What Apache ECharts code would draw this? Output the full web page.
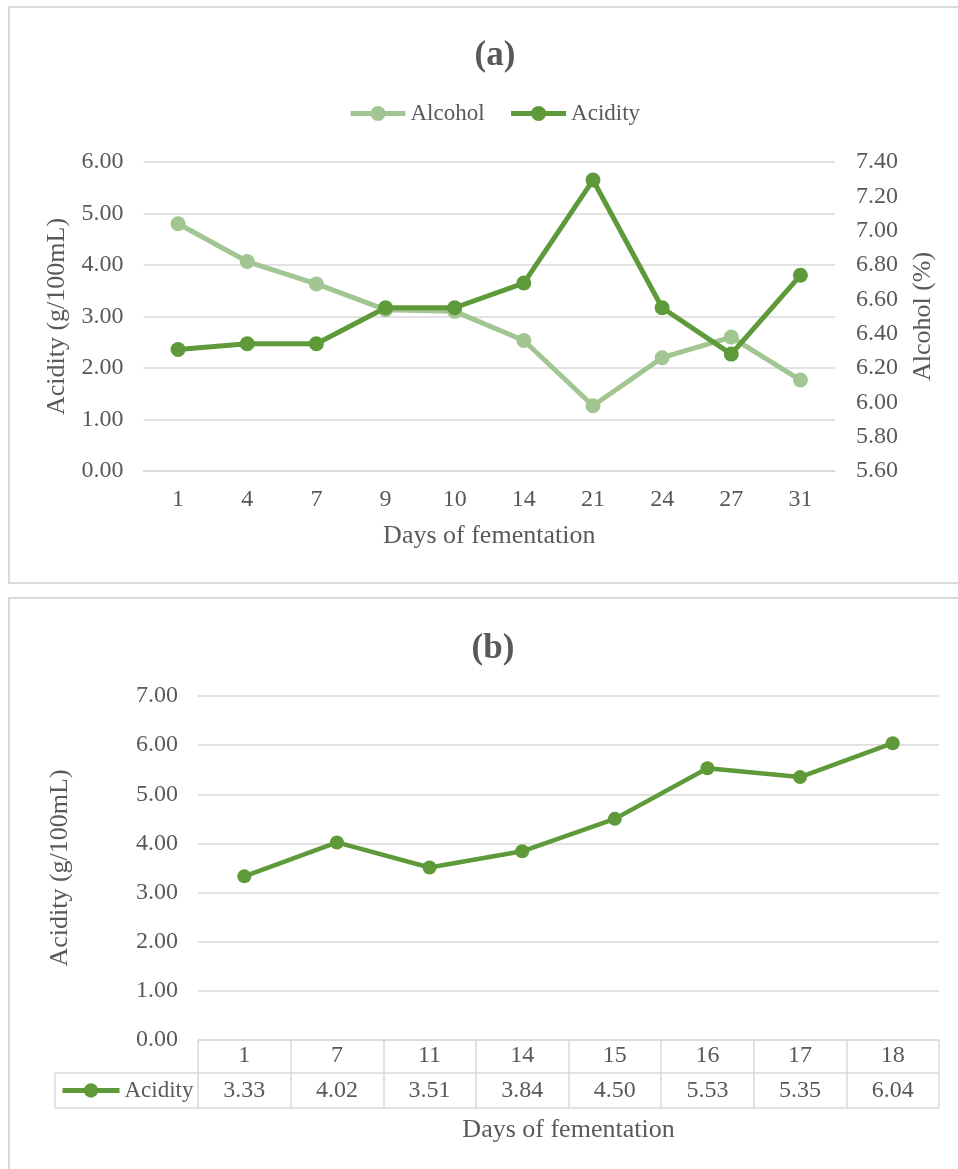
<!DOCTYPE html>
<html>
<head>
<meta charset="utf-8">
<script src="https://cdn.jsdelivr.net/npm/echarts@6/dist/echarts.min.js"></script>
<style>
  html, body { margin: 0; padding: 0; background: #ffffff; }
  #chart { width: 958px; height: 1169px; }
</style>
</head>
<body>
<div id="chart"></div>
<script>
// Panel (a): alcohol and acidity over the fermentation days
const daysA = ['1', '4', '7', '9', '10', '14', '21', '24', '27', '31'];
const alcoholA = [7.04, 6.82, 6.69, 6.54, 6.53, 6.36, 5.98, 6.26, 6.38, 6.13];
const acidityA = [2.36, 2.47, 2.47, 3.17, 3.17, 3.65, 5.65, 3.17, 2.27, 3.80];

// Panel (b): acidity only, with a data table under the axis
const daysB = ['1', '7', '11', '14', '15', '16', '17', '18'];
const acidityB = [3.33, 4.02, 3.51, 3.84, 4.50, 5.53, 5.35, 6.04];

const FONT = 'Liberation Serif';
const TEXT = '#595959';
const GRIDLINE = '#D9D9D9';
const DARK = '#5E9A3A';
const LIGHT = '#A2C692';
const TICK_SIZE = 24;

const fmt2 = v => Number(v).toFixed(2);

const chart = echarts.init(document.getElementById('chart'), null, { renderer: 'canvas' });

const baseText = { fontFamily: FONT, color: TEXT };

// layout of the two plot areas
const gridA = { left: 143.5, top: 162, width: 691.5, height: 309 };
const gridB = { left: 198, top: 696, width: 741, height: 344 };
const tableRow1 = 33;   // header row height (day numbers)
const tableRow2 = 35;   // value row height
const legendCellLeft = 55;

const option = {
  backgroundColor: '#ffffff',
  animation: false,
  textStyle: { fontFamily: FONT },
  title: [
    { text: '(a)', left: 490, top: 33, textAlign: 'center',
      textStyle: { fontFamily: FONT, fontSize: 35, fontWeight: 'bold', color: TEXT } },
    { text: '(b)', left: 488, top: 626, textAlign: 'center',
      textStyle: { fontFamily: FONT, fontSize: 35, fontWeight: 'bold', color: TEXT } }
  ],
  legend: [
    { data: ['Alcohol', 'Acidity'], left: 343, top: 97, orient: 'horizontal',
      itemWidth: 55, itemHeight: 19, itemGap: 24,
      lineStyle: { width: 5 },
      textStyle: Object.assign({ fontSize: 23 }, baseText) },
    { data: ['Acidity'], left: 55, top: 1074, orient: 'horizontal',
      itemWidth: 57, itemHeight: 18,
      lineStyle: { width: 5 },
      textStyle: Object.assign({ fontSize: 23 }, baseText) }
  ],
  grid: [
    Object.assign({ containLabel: false, outerBoundsMode: 'none' }, gridA),
    Object.assign({ containLabel: false, outerBoundsMode: 'none' }, gridB)
  ],
  xAxis: [
    {
      type: 'category', gridIndex: 0, data: daysA, boundaryGap: true,
      name: 'Days of fementation', nameLocation: 'middle', nameGap: 52,
      nameTextStyle: Object.assign({ fontSize: 26 }, baseText),
      axisLine: { show: true, lineStyle: { color: GRIDLINE, width: 1.5 } },
      axisTick: { show: false },
      axisLabel: Object.assign({ fontSize: TICK_SIZE, margin: 17 }, baseText),
      splitLine: { show: false }
    },
    {
      type: 'category', gridIndex: 1, data: daysB, boundaryGap: true,
      name: 'Days of fementation', nameLocation: 'middle', nameGap: 77,
      nameTextStyle: Object.assign({ fontSize: 26 }, baseText),
      axisLine: { show: true, lineStyle: { color: GRIDLINE, width: 1.5 } },
      axisTick: { show: true, inside: false, alignWithLabel: false, interval: 0,
                  length: tableRow1 + tableRow2,
                  lineStyle: { color: GRIDLINE, width: 1.5 } },
      axisLabel: Object.assign({ fontSize: TICK_SIZE, margin: 4 }, baseText),
      splitLine: { show: false }
    }
  ],
  yAxis: [
    {
      type: 'value', gridIndex: 0, min: 0, max: 6, interval: 1,
      name: 'Acidity (g/100mL)', nameLocation: 'middle', nameGap: 70, nameRotate: 90,
      nameTextStyle: Object.assign({ fontSize: 26 }, baseText),
      axisLine: { show: false }, axisTick: { show: false },
      axisLabel: Object.assign({ fontSize: TICK_SIZE, margin: 20, formatter: fmt2 }, baseText),
      splitLine: { show: true, lineStyle: { color: GRIDLINE, width: 1.5 } }
    },
    {
      type: 'value', gridIndex: 0, position: 'right', min: 5.6, max: 7.4, interval: 0.2,
      name: 'Alcohol (%)', nameLocation: 'middle', nameGap: 75, nameRotate: 90,
      nameTextStyle: Object.assign({ fontSize: 26 }, baseText),
      axisLine: { show: false }, axisTick: { show: false },
      axisLabel: Object.assign({ fontSize: TICK_SIZE, margin: 21, formatter: fmt2 }, baseText),
      splitLine: { show: false }
    },
    {
      type: 'value', gridIndex: 1, min: 0, max: 7, interval: 1,
      name: 'Acidity (g/100mL)', nameLocation: 'middle', nameGap: 125, nameRotate: 90,
      nameTextStyle: Object.assign({ fontSize: 26 }, baseText),
      axisLine: { show: false }, axisTick: { show: false },
      axisLabel: Object.assign({ fontSize: TICK_SIZE, margin: 20, formatter: fmt2 }, baseText),
      splitLine: { show: true, lineStyle: { color: GRIDLINE, width: 1.5 } }
    }
  ],
  series: [
    {
      name: 'Alcohol', type: 'line', xAxisIndex: 0, yAxisIndex: 1, data: alcoholA,
      symbol: 'circle', symbolSize: 15,
      itemStyle: { color: LIGHT }, lineStyle: { color: LIGHT, width: 5 }, z: 2
    },
    {
      name: 'Acidity', type: 'line', xAxisIndex: 0, yAxisIndex: 0, data: acidityA,
      symbol: 'circle', symbolSize: 15,
      itemStyle: { color: DARK }, lineStyle: { color: DARK, width: 5 }, z: 3
    },
    {
      name: 'Acidity', type: 'line', xAxisIndex: 1, yAxisIndex: 2, data: acidityB,
      symbol: 'circle', symbolSize: 14,
      itemStyle: { color: DARK }, lineStyle: { color: DARK, width: 4.5 }, z: 3
    }
  ]
};

chart.setOption(option);

// Panel frames and the data table under panel (b), placed from the axis scale
const toX = d => {
  const p = chart.convertToPixel({ xAxisIndex: 1 }, d);
  return Array.isArray(p) ? p[0] : p;
};
const centers = daysB.map(toX);
const band = centers.length > 1 ? centers[1] - centers[0] : gridB.width;
const tableRight = centers[centers.length - 1] + band / 2;
const yTop = gridB.top + gridB.height;
const yMid = yTop + tableRow1;
const yBot = yMid + tableRow2;
const lineStyle = { stroke: GRIDLINE, lineWidth: 1.5 };

const graphics = [
  { type: 'rect', z: -10, shape: { x: 9, y: 7, width: 980, height: 576 },
    style: { fill: 'none', stroke: GRIDLINE, lineWidth: 2 }, silent: true },
  { type: 'rect', z: -10, shape: { x: 9, y: 598, width: 980, height: 600 },
    style: { fill: 'none', stroke: GRIDLINE, lineWidth: 2 }, silent: true },
  { type: 'line', shape: { x1: legendCellLeft, y1: yMid, x2: tableRight, y2: yMid }, style: lineStyle, silent: true },
  { type: 'line', shape: { x1: legendCellLeft, y1: yBot, x2: tableRight, y2: yBot }, style: lineStyle, silent: true },
  { type: 'line', shape: { x1: legendCellLeft, y1: yMid, x2: legendCellLeft, y2: yBot }, style: lineStyle, silent: true }
];
acidityB.forEach((v, i) => {
  graphics.push({
    type: 'text', silent: true,
    style: { text: fmt2(v), x: centers[i], y: (yMid + yBot) / 2,
             align: 'center', verticalAlign: 'middle',
             fontFamily: FONT, fontSize: TICK_SIZE, fill: TEXT }
  });
});
chart.setOption({ graphic: graphics });
</script>
</body>
</html>
